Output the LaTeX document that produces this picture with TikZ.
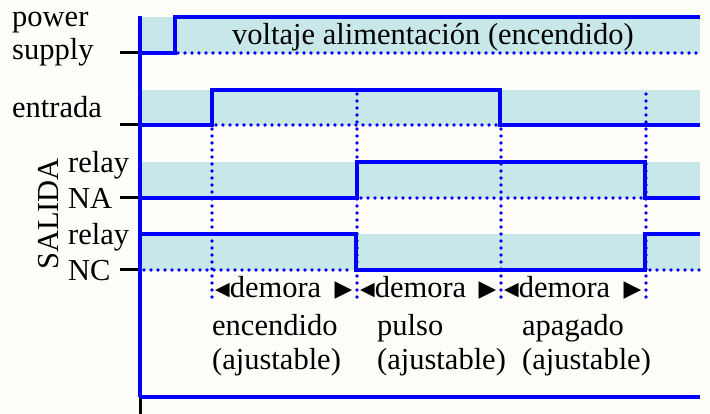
\documentclass[tikz,border=0pt]{standalone}
\usepackage{fontspec}
\setmainfont{Liberation Serif}
\newfontfamily\symfont{DejaVu Sans}
\usepackage{tikz}

\definecolor{band}{HTML}{C7E7E8}
\definecolor{paper}{HTML}{FEFDFA}
\newcommand{\tleft}{\raisebox{2pt}{\symfont\fontsize{19}{19}\selectfont ◀}}
\newcommand{\tright}{\raisebox{1pt}{\symfont\fontsize{23}{23}\selectfont ▶}}

\tikzset{
    signal/.style={blue, line width=4pt},
    guide/.style={blue, line width=3.6pt, line cap=round, dash pattern=on 0pt off 7pt},
    tickmark/.style={black, line width=3pt},
    lbl/.style={inner sep=0pt, anchor=base west, font=\fontsize{30.5}{36}\selectfont},
}

\begin{document}
\begin{tikzpicture}[x=1pt, y=-1pt]
    \fill[paper] (0,0) rectangle (710,414);
    \useasboundingbox (0,0) rectangle (710,414);

    % shaded bands
    \fill[band] (140,17) rectangle (700,53);
    \fill[band] (140,90) rectangle (700,125);
    \fill[band] (140,162) rectangle (700,198);
    \fill[band] (140,234) rectangle (700,270);

    % ticks on the axis
    \draw[tickmark] (120,53) -- (140,53);
    \draw[tickmark] (120,125) -- (140,125);
    \draw[tickmark] (120,198) -- (140,198);
    \draw[tickmark] (120,270) -- (140,270);

    % dotted guides
    \draw[guide] (178,53) -- (700,53);
    \draw[guide] (216,125) -- (497,125);
    \draw[guide] (361,198) -- (642,198);
    \draw[guide] (144,270) -- (352,270);
    \draw[guide] (650,270) -- (700,270);
    \draw[guide] (212,129) -- (212,304);
    \draw[guide] (357,94) -- (357,304);
    \draw[guide] (501,129) -- (501,304);
    \draw[guide] (646,94) -- (646,304);

    % signals
    \draw[signal]
        (140,53) -- (175,53)
        -- (175,17) -- (700,17);
    \draw[signal]
        (140,125) -- (212,125)
        -- (212,90) -- (500,90)
        -- (500,125) -- (700,125);
    \draw[signal]
        (140,198) -- (357,198)
        -- (357,162) -- (645,162)
        -- (645,198) -- (700,198);
    \draw[signal]
        (140,234) -- (356,234)
        -- (356,270) -- (645,270)
        -- (645,234) -- (700,234);

    % axes
    \draw[signal] (140,16) -- (140,397);
    \draw[tickmark] (140,397) -- (140,414);
    \draw[signal] (140,397) -- (700,397);

    % labels
    \node[lbl] (power) at (12,27) {power};
    \node[lbl] (supply) at (12,60) {supply};
    \node[lbl] (entrada) at (12,118) {entrada};
    \node[lbl] (relayna) at (68,173) {relay};
    \node[lbl] (na) at (68,209) {NA};
    \node[lbl] (relaync) at (68,245) {relay};
    \node[lbl] (nc) at (68,281) {NC};
    \node[inner sep=0pt, rotate=90, font=\fontsize{30.5}{36}\selectfont] (salida) at (48.5,214) {SALIDA};
    \node[lbl] (voltaje) at (232,45) {voltaje alimentación (encendido)};

    \node[lbl] (demon) at (215,298) {\hbox to 137pt{\tleft demora\hfill\tright}};
    \node[lbl] (demp) at (360,298) {\hbox to 136pt{\tleft demora\hfill\tright}};
    \node[lbl] (demoff) at (504,298) {\hbox to 137pt{\tleft demora\hfill\tright}};

    \node[lbl] (encendido) at (212,335) {encendido};
    \node[lbl] (pulso) at (377,335) {pulso};
    \node[lbl] (apagado) at (522,335) {apagado};
    \node[lbl] (ajon) at (212,370) {(ajustable)};
    \node[lbl] (ajp) at (377,370) {(ajustable)};
    \node[lbl] (ajoff) at (522,370) {(ajustable)};
\end{tikzpicture}
\end{document}
